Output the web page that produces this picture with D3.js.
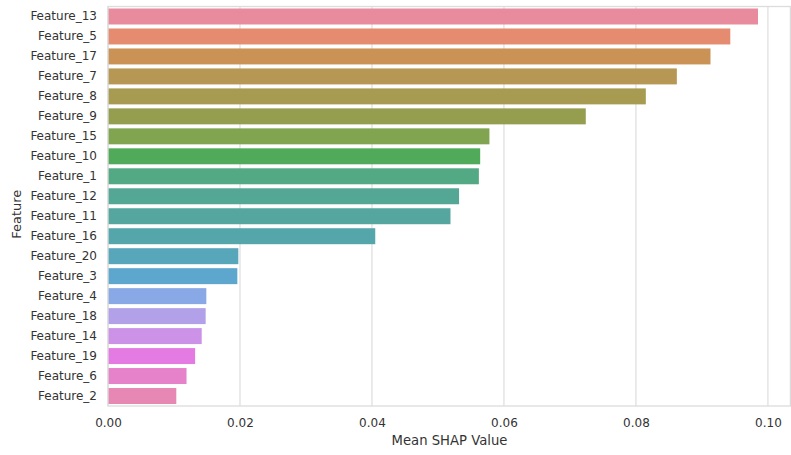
<!DOCTYPE html>
<html>
<head>
<meta charset="utf-8">
<script src="https://cdn.jsdelivr.net/npm/d3@7"></script>
<style>
  html, body { margin: 0; padding: 0; background: #ffffff; }
  svg { display: block; }
  text { font-family: "DejaVu Sans", sans-serif; fill: #333333; }
</style>
</head>
<body>
<svg id="chart" width="791" height="455"></svg>
<script>
// Mean absolute SHAP value per feature, sorted from largest to smallest
const features = [
  "Feature_13", "Feature_5", "Feature_17", "Feature_7", "Feature_8",
  "Feature_9", "Feature_15", "Feature_10", "Feature_1", "Feature_12",
  "Feature_11", "Feature_16", "Feature_20", "Feature_3", "Feature_4",
  "Feature_18", "Feature_14", "Feature_19", "Feature_6", "Feature_2"
];
const meanShap = [
  0.0985, 0.0943, 0.0913, 0.0862, 0.0815,
  0.0724, 0.0578, 0.0564, 0.0562, 0.0532,
  0.0519, 0.0405, 0.01975, 0.0196, 0.0149,
  0.0148, 0.0142, 0.0132, 0.0119, 0.01035
];
const xTicks = [0, 0.02, 0.04, 0.06, 0.08, 0.10];
const xLabel = "Mean SHAP Value";
const yLabel = "Feature";

// --- HUSL palette (same construction as seaborn.husl_palette) ---
const M = [
  [3.2406, -1.5372, -0.4986],
  [-0.9689, 1.8758, 0.0415],
  [0.0557, -0.2040, 1.0570]
];
const refU = 0.19784, refV = 0.46834, kappa = 903.2963, epsilon = 0.0088564;

function maxChroma(L, H) {
  const hrad = H / 360 * 2 * Math.PI;
  const sinH = Math.sin(hrad), cosH = Math.cos(hrad);
  const sub1 = Math.pow(L + 16, 3) / 1560896;
  const sub2 = sub1 > epsilon ? sub1 : L / kappa;
  let result = Infinity;
  for (const [m1, m2, m3] of M) {
    const top = (0.99915 * m1 + 1.05122 * m2 + 1.14460 * m3) * sub2;
    const rbottom = 0.86330 * m3 - 0.17266 * m2;
    const lbottom = 0.12949 * m3 - 0.38848 * m1;
    const bottom = (rbottom * sinH + lbottom * cosH) * sub2;
    for (const t of [0, 1]) {
      const C = L * (top - 1.05122 * t) / (bottom + 0.17266 * sinH * t);
      if (C > 0 && C < result) result = C;
    }
  }
  return result;
}
function fromLinear(c) {
  return c <= 0.0031308 ? 12.92 * c : 1.055 * Math.pow(c, 1 / 2.4) - 0.055;
}
function huslToRgb(H, S, L) {
  const C = maxChroma(L, H) / 100 * S;
  const hrad = H / 360 * 2 * Math.PI;
  const U = Math.cos(hrad) * C, V = Math.sin(hrad) * C;
  const varY = L > 8 ? Math.pow((L + 16) / 116, 3) : L / kappa;
  const varU = U / (13 * L) + refU;
  const varV = V / (13 * L) + refV;
  const Y = varY;
  const X = 0 - (9 * Y * varU) / ((varU - 4) * varV - varU * varV);
  const Z = (9 * Y - 15 * varV * Y - varV * X) / (3 * varV);
  return M.map(r => Math.min(1, Math.max(0, fromLinear(r[0] * X + r[1] * Y + r[2] * Z))));
}
// reduce saturation in HLS space, then soften slightly toward white
function desaturate([r, g, b], prop) {
  const hsl = d3.hsl(d3.rgb(r * 255, g * 255, b * 255));
  hsl.s *= prop;
  return d3.interpolateRgb(hsl.formatHex(), "#ffffff")(0.08);
}
function huslPalette(n) {
  const colors = [];
  for (let i = 0; i < n; i++) {
    const h = ((i / n + 0.01) % 1) * 359;
    colors.push(desaturate(huslToRgb(h, 0.9 * 99, 0.65 * 99), 0.75));
  }
  return colors;
}
const palette = huslPalette(features.length);

// --- layout ---
const svg = d3.select("#chart");
const plot = { left: 108, top: 6.5, right: 791, bottom: 406 };

const x = d3.scaleLinear()
  .domain([0, 0.1035])
  .range([plot.left, plot.right]);

const y = d3.scaleBand()
  .domain(features)
  .range([plot.top, plot.bottom])
  .paddingInner(0.2)
  .paddingOuter(0.1);

const color = d3.scaleOrdinal().domain(features).range(palette);

// vertical grid lines
svg.append("g")
  .selectAll("line")
  .data(xTicks)
  .join("line")
  .attr("x1", d => x(d)).attr("x2", d => x(d))
  .attr("y1", plot.top).attr("y2", plot.bottom)
  .attr("stroke", "#e0e0e0")
  .attr("stroke-width", 1.3);

// bars
svg.append("g")
  .selectAll("rect")
  .data(features.map((f, i) => ({ f, v: meanShap[i] })))
  .join("rect")
  .attr("x", x(0))
  .attr("y", d => y(d.f))
  .attr("width", d => x(d.v) - x(0))
  .attr("height", y.bandwidth())
  .attr("fill", d => color(d.f));

// frame
svg.append("rect")
  .attr("x", plot.left).attr("y", plot.top)
  .attr("width", plot.right - plot.left - 0.6)
  .attr("height", plot.bottom - plot.top)
  .attr("fill", "none")
  .attr("stroke", "#dcdcdc")
  .attr("stroke-width", 1.3);

// x axis
const xAxis = svg.append("g")
  .attr("transform", `translate(0,${plot.bottom})`)
  .call(d3.axisBottom(x).tickValues(xTicks).tickFormat(d3.format(".2f")).tickSize(0).tickPadding(12.5));
xAxis.select(".domain").remove();
xAxis.selectAll("text").attr("font-size", 12).style("font-family", "DejaVu Sans, sans-serif").attr("fill", "#333");

// y axis
const yAxis = svg.append("g")
  .attr("transform", `translate(${plot.left},0)`)
  .call(d3.axisLeft(y).tickSize(0).tickPadding(11));
yAxis.select(".domain").remove();
yAxis.selectAll("text").attr("font-size", 12).style("font-family", "DejaVu Sans, sans-serif").attr("fill", "#333");

// axis titles
svg.append("text")
  .attr("x", (plot.left + plot.right) / 2)
  .attr("y", 444.5)
  .attr("text-anchor", "middle")
  .attr("font-size", 13.2)
  .text(xLabel);

svg.append("text")
  .attr("transform", `translate(21,${(plot.top + plot.bottom) / 2 + 8}) rotate(-90)`)
  .attr("text-anchor", "middle")
  .attr("font-size", 13)
  .text(yLabel);
</script>
</body>
</html>
